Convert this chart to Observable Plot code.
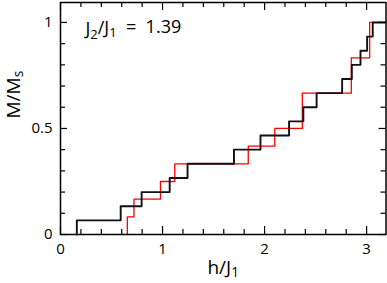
<!DOCTYPE html>
<html><head><meta charset="utf-8">
<script src="https://cdn.jsdelivr.net/npm/d3@7"></script>
<script src="https://cdn.jsdelivr.net/npm/@observablehq/plot@0.6"></script>
<style>body{margin:0;background:#fff}</style>
</head><body><div id="chart"></div>
<script>
// step positions (h/J1) and magnetization level after each step (M/Ms)
const blackH = [0.16, 0.59, 0.795, 1.07, 1.245, 1.70, 1.96, 2.24, 2.38, 2.51, 2.76, 2.855, 2.94, 3.005, 3.06];
const blackM = [0.0667, 0.1333, 0.2, 0.2667, 0.3333, 0.4, 0.4667, 0.5333, 0.6, 0.6667, 0.7333, 0.8, 0.8667, 0.9333, 1];
const redH = [0.655, 0.72, 0.98, 1.12, 1.84, 2.10, 2.37, 2.85, 3.03];
const redM = [0.0833, 0.1667, 0.25, 0.3333, 0.4167, 0.5, 0.6667, 0.8333, 1];
const xMajor = [0, 1, 2, 3];
const xMinor = [0.2, 0.4, 0.6, 0.8, 1.2, 1.4, 1.6, 1.8, 2.2, 2.4, 2.6, 2.8, 3.2];
const yMajor = [0, 0.5, 1];
const yMinor = [0.1, 0.2, 0.3, 0.4, 0.6, 0.7, 0.8, 0.9];
const xDomain = [0, 3.19];
const yDomain = [0, 1.094];

function steps(H, M) {
  const pts = [{h: H[0], m: 0}];
  H.forEach((h, i) => pts.push({h, m: M[i]}));
  pts.push({h: xDomain[1], m: M[M.length - 1]});
  return pts;
}
const black = steps(blackH, blackM);
const red = steps(redH, redM);

const W = 387, Hh = 283, mL = 60, mR = 1.5, mT = 2, mB = 49;
const fw = W - mL - mR, fh = Hh - mT - mB;
const font = "Open Sans";

const plot = Plot.plot({
  width: W, height: Hh,
  marginLeft: mL, marginRight: mR, marginTop: mT, marginBottom: mB,
  style: {fontFamily: font, fontSize: "15px", color: "#000", background: "#fff"},
  x: {domain: xDomain, axis: null, label: null},
  y: {domain: yDomain, axis: null, label: null},
  marks: [
    Plot.line(red, {x: "h", y: "m", curve: "step-after", stroke: "#ff0000", strokeWidth: 1.3}),
    Plot.line(black, {x: "h", y: "m", curve: "step-after", stroke: "#111", strokeWidth: 1.9}),
    // ticks inward on all four sides
    Plot.tickX(xMinor.filter(d => d <= xDomain[1]), {x: d => d, insetTop: fh - 5, stroke: "#000", strokeWidth: 1.2}),
    Plot.tickX(xMajor, {x: d => d, insetTop: fh - 8, stroke: "#000", strokeWidth: 1.2}),
    Plot.tickX(xMinor.filter(d => d <= xDomain[1]), {x: d => d, insetBottom: fh - 5, stroke: "#000", strokeWidth: 1.2}),
    Plot.tickX(xMajor, {x: d => d, insetBottom: fh - 8, stroke: "#000", strokeWidth: 1.2}),
    Plot.tickY(yMinor, {y: d => d, insetRight: fw - 5, stroke: "#000", strokeWidth: 1.2}),
    Plot.tickY(yMajor, {y: d => d, insetRight: fw - 7, stroke: "#000", strokeWidth: 1.2}),
    Plot.tickY(yMinor, {y: d => d, insetLeft: fw - 5, stroke: "#000", strokeWidth: 1.2}),
    Plot.tickY(yMajor, {y: d => d, insetLeft: fw - 7, stroke: "#000", strokeWidth: 1.2}),
    Plot.frame({stroke: "#000", strokeWidth: 1.5}),
    Plot.axisX(xMajor, {tickSize: 0, tickPadding: 9, fontSize: 15, label: null, tickFormat: d => String(d)}),
    Plot.axisY(yMajor, {tickSize: 0, tickPadding: 8, fontSize: 15, label: null, tickFormat: d => String(d)}),
    Plot.text(["XLABEL"], {frameAnchor: "bottom", dy: 33, fontSize: 19, lineAnchor: "middle", fill: "#000"}),
    Plot.text(["YLABEL"], {frameAnchor: "left", dx: -47, rotate: -90, fontSize: 19, lineAnchor: "middle", fill: "#000"}),
    Plot.text(["ANNOT"], {frameAnchor: "top-left", dx: 25, dy: 27, fontSize: 18, textAnchor: "start", lineAnchor: "middle", fill: "#000"})
  ]
});
document.getElementById("chart").appendChild(plot);

function richText(key, parts) {
  d3.select(plot).selectAll("text").filter(function() { return this.textContent === key; })
    .each(function() {
      const t = d3.select(this);
      t.text("").style("white-space", "pre");
      let shifted = false;
      parts.forEach(([s, isSub]) => {
        const sp = t.append("tspan").text(s);
        if (isSub && !shifted) { sp.attr("dy", "0.25em").attr("font-size", "72%"); shifted = true; }
        else if (isSub) { sp.attr("font-size", "72%"); }
        else if (!isSub && shifted) { sp.attr("dy", "-0.25em"); shifted = false; }
      });
    });
}
richText("XLABEL", [["h/J", false], ["1", true]]);
richText("YLABEL", [["M/M", false], ["s", true]]);
richText("ANNOT", [["J", false], ["2", true], ["/J", false], ["1", true], ["  =  1.39", false]]);
</script>
</body></html>
